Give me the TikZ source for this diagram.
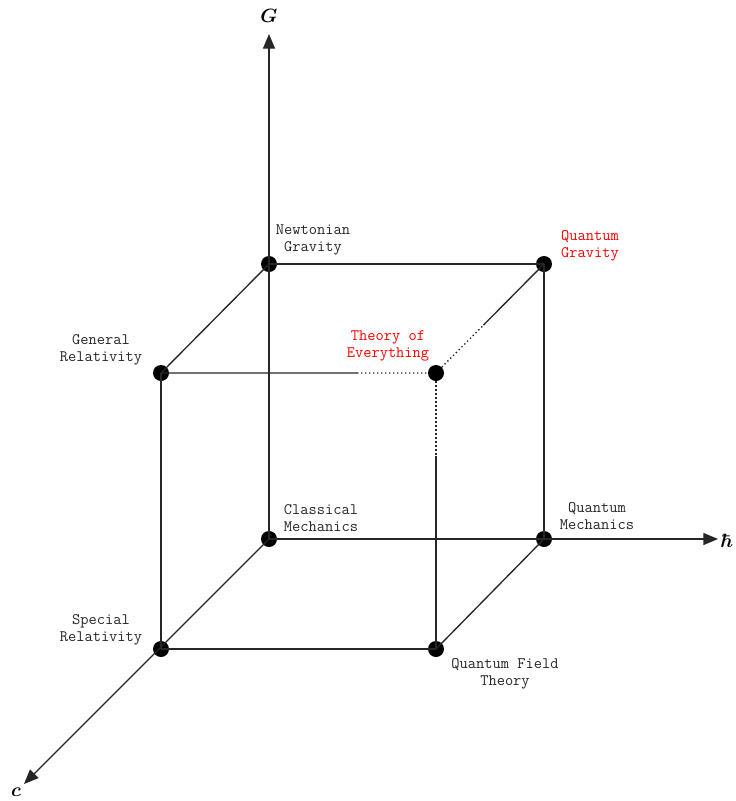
\documentclass[tikz,border=0pt]{standalone}
\usepackage{amsmath}
\usepackage{bm}
\usepackage{xcolor}
\usepackage{tikz}
\usetikzlibrary{arrows.meta,calc}

\tikzset{
  edge/.style={line width=1pt, black!85},
  axis/.style={edge, -{Triangle[length=11pt,width=9pt]}},
  gap/.style={line width=1pt, black!85, dotted},
  dot/.style={circle, fill=black, inner sep=0pt, minimum size=12pt},
  lbl/.style={font=\ttfamily\fontsize{12}{12.5}\selectfont, align=center, text=black!85},
  axlbl/.style={font=\fontsize{15}{15}\selectfont}
}

\begin{document}
\begin{tikzpicture}[x=0.75pt, y=-0.75pt]
    \useasboundingbox (0,0) rectangle (736,801);
    % corners of the cube
    \node[dot] (CM)  at (269,539) {};
    \node[dot] (QM)  at (544,539) {};
    \node[dot] (NG)  at (269,264) {};
    \node[dot] (QG)  at (544,264) {};
    \node[dot] (SR)  at (161,649) {};
    \node[dot] (QFT) at (436,649) {};
    \node[dot] (GR)  at (161,373) {};
    \node[dot] (TOE) at (436,373) {};
    % axes
    \coordinate (Gtip) at (269,34);
    \coordinate (htip) at (718,539);
    \coordinate (ctip) at (24,784);
    \draw[axis] (CM.center) -- (Gtip);
    \draw[axis] (CM.center) -- (htip);
    \draw[axis] (CM.center) -- (ctip);
    \node[axlbl] (G) at (269,16) {$\bm{G}$};
    \node[axlbl] (h) at (727,541) {$\bm{\hbar}$};
    \node[axlbl] (c) at (16,792) {$\bm{c}$};
    % solid edges
    \draw[edge] (NG.center) -- (QG.center);
    \draw[edge] (NG.center) -- (GR.center);
    \draw[edge] (GR.center) -- (SR.center);
    \draw[edge] (SR.center) -- (QFT.center);
    \draw[edge] (QFT.center) -- (QM.center);
    \draw[edge] (QM.center) -- (QG.center);
    % edges to the theory of everything
    \coordinate (b1) at ($(GR)!0.713!(TOE)$);
    \coordinate (b2) at ($(TOE)!0.44!(QG)$);
    \coordinate (b3) at ($(TOE)!0.30!(QFT)$);
    \draw[edge] (GR.center) -- (b1);
    \draw[gap] (b1) -- (TOE);
    \draw[gap] (TOE) -- (b2);
    \draw[edge] (b2) -- (QG.center);
    \draw[gap] (TOE) -- (b3);
    \draw[edge] (b3) -- (QFT.center);
    % labels
    \node[lbl] (lNG)  at (313,240) {Newtonian\\Gravity};
    \node[lbl, text=red] (lQG) at (590,246) {Quantum\\Gravity};
    \node[lbl] (lGR)  at (101,350) {General\\Relativity};
    \node[lbl, text=red] (lTOE) at (388,346) {Theory of\\Everything};
    \node[lbl] (lCM)  at (321,518) {Classical\\Mechanics};
    \node[lbl] (lQM)  at (597,516) {Quantum\\Mechanics};
    \node[lbl] (lSR)  at (101,630) {Special\\Relativity};
    \node[lbl] (lQFT) at (505,674) {Quantum Field\\Theory};
\end{tikzpicture}
\end{document}
